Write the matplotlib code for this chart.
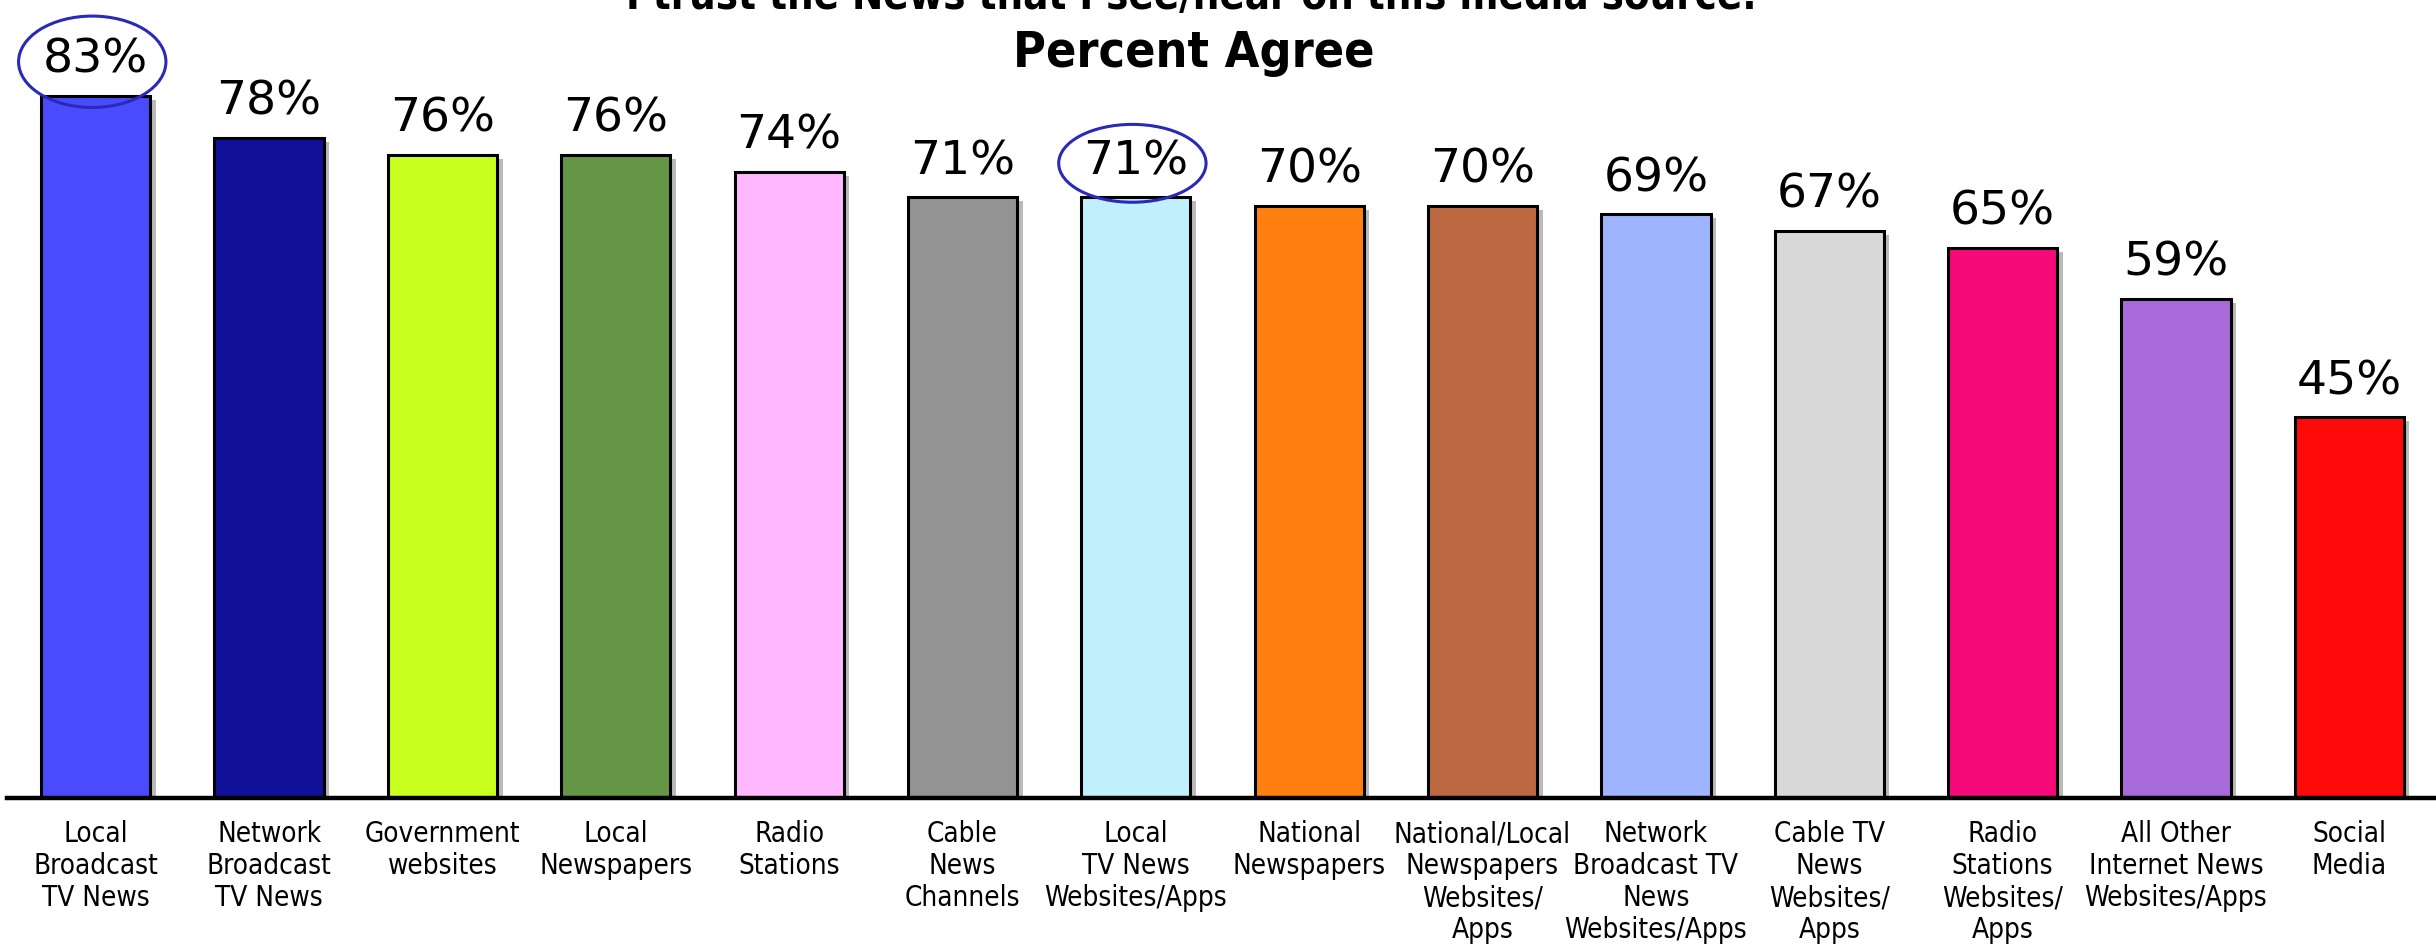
import matplotlib.pyplot as plt
import matplotlib.patheffects as pe
from matplotlib.patches import Ellipse

plt.rcParams['font.family'] = ['DejaVu Sans']
plt.rcParams['font.stretch'] = 'condensed'

# data
categories = ['Local\nBroadcast\nTV News', 'Network\nBroadcast\nTV News', 'Government\nwebsites',
              'Local\nNewspapers', 'Radio\nStations', 'Cable\nNews\nChannels',
              'Local\nTV News\nWebsites/Apps', 'National\nNewspapers',
              'National/Local\nNewspapers\nWebsites/\nApps', 'Network\nBroadcast TV\nNews\nWebsites/Apps',
              'Cable TV\nNews\nWebsites/\nApps', 'Radio\nStations\nWebsites/\nApps',
              'All Other\nInternet News\nWebsites/Apps', 'Social\nMedia']
values = [83, 78, 76, 76, 74, 71, 71, 70, 70, 69, 67, 65, 59, 45]
colors = ['#4a4aff', '#10109a', '#c8ff1e', '#659645', '#ffb8ff', '#939393', '#bff0fc',
          '#ff7f11', '#bc6942', '#9eb4ff', '#d8d8d8', '#f50a7a', '#a96ad9', '#ff0a0a']
circled = [0, 6]

fig = plt.figure(figsize=(24.36, 9.44), dpi=100)
ax = fig.add_axes([0.003, 0.1547, 0.997, 0.8453])

x = range(len(values))
bars = ax.bar(x, values, width=0.63, color=colors, edgecolor='black', linewidth=2.2, zorder=3)
for b in bars:
    b.set_path_effects([pe.SimplePatchShadow(offset=(4, -3), shadow_rgbFace='#777777', alpha=0.5), pe.Normal()])

# value labels
for i, v in enumerate(values):
    ax.text(i, v + 4.2, f'{v}%', ha='center', va='center', fontsize=34, fontstretch='normal',
            color='black', zorder=4)

# highlight circles
for i in circled:
    h = 10.8 if i == 0 else 9.2
    ax.add_patch(Ellipse((i - 0.02, values[i] + 4.0), 0.85, h, fill=False,
                         edgecolor='#2a2ab8', linewidth=2.2, zorder=5, clip_on=False))

ax.set_xlim(-0.51, 13.5)
ax.set_ylim(0, 94.3)
ax.set_xticks(list(x))
ax.set_xticklabels(categories, fontsize=20, linespacing=1.18)
ax.tick_params(axis='x', length=0, pad=16)
ax.set_yticks([])
for s in ['top', 'left', 'right']:
    ax.spines[s].set_visible(False)
ax.spines['bottom'].set_linewidth(3.2)
ax.spines['bottom'].set_zorder(6)

fig.text(0.489, 0.99, 'I trust the News that I see/hear on this media source.',
         ha='center', va='baseline', fontsize=30, fontweight='bold')
fig.text(0.49, 0.944, 'Percent Agree', ha='center', va='center', fontsize=36, fontweight='bold')

plt.savefig('out.png', dpi=100)
